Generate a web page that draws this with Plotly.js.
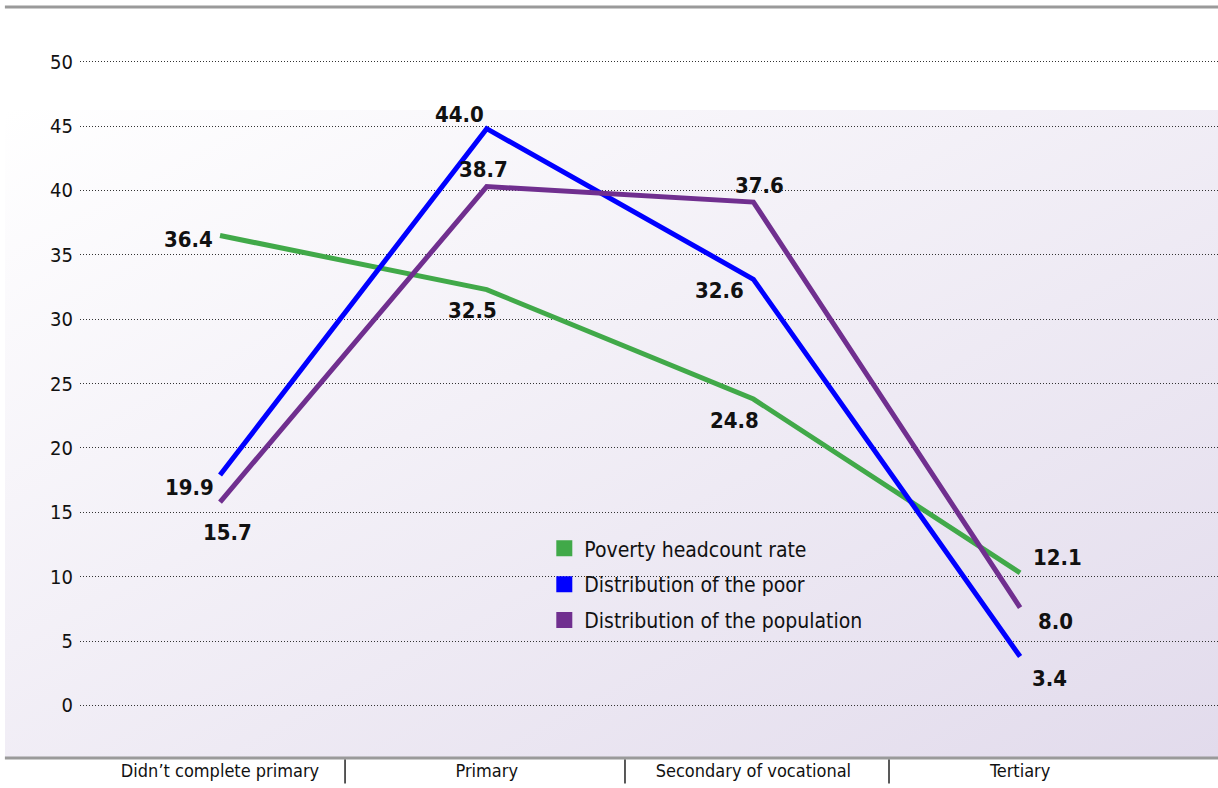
<!DOCTYPE html>
<html><head><meta charset="utf-8">
<script src="https://cdn.plot.ly/plotly-3.0.1.min.js"></script>
<style>
html,body{margin:0;padding:0;background:#fff;}
#wrap{position:relative;width:1218px;height:788px;overflow:hidden;}
#bg{position:absolute;left:5px;top:110px;width:1213px;height:648px;background:linear-gradient(to bottom right,#ffffff 0%,#e2dbec 100%);}
#chart{position:absolute;left:0;top:0;width:1218px;height:788px;}
</style></head><body>
<div id="wrap"><div id="bg"></div><div id="chart"></div></div>
<script>
// ---- data ----
const categories = ["Didn’t complete primary", "Primary", "Secondary of vocational", "Tertiary"];
const seriesNames = ["Poverty headcount rate", "Distribution of the poor", "Distribution of the population"];
// drawn positions of the line vertices
const povertyHeadcount = [36.5, 32.3, 23.8, 10.3];
const distributionPoor = [17.9, 44.8, 33.1, 3.8];
const distributionPopulation = [15.8, 40.3, 39.1, 7.6];
// printed data labels
const povertyHeadcountLabels = ["36.4", "32.5", "24.8", "12.1"];
const distributionPoorLabels = ["19.9", "44.0", "32.6", "3.4"];
const distributionPopulationLabels = ["15.7", "38.7", "37.6", "8.0"];
const yTickValues = [0, 5, 10, 15, 20, 25, 30, 35, 40, 45, 50];

// ---- styling ----
const FONT = "'Liberation Sans Narrow', 'DejaVu Sans Condensed', 'Arial Narrow', sans-serif";
const colors = ["#41a949", "#0000ff", "#702f8f"];
const seriesValues = [povertyHeadcount, distributionPoor, distributionPopulation];
const seriesLabels = [povertyHeadcountLabels, distributionPoorLabels, distributionPopulationLabels];
// label offsets (pixels) relative to each vertex
const labelShift = [
  [[-32, -4], [-14, -21], [-19, -21], [37, 15]],
  [[-31, -12], [-27, 14], [-34, -11], [29, -22]],
  [[7, -30], [-3, 17], [6, 17], [35, -14]]
];

const traces = [];
seriesValues.forEach((vals, s) => {
  traces.push({
    type: "scatter", mode: "lines", x: categories, y: vals,
    line: {color: colors[s], width: 5}, showlegend: false, hoverinfo: "skip"
  });
});
seriesNames.forEach((name, s) => {
  traces.push({
    type: "scatter", mode: "markers", x: [null], y: [null], name: name,
    legendgroup: "g" + s,
    marker: {symbol: "square", size: 16, color: colors[s]}
  });
});

const annotations = [];
seriesLabels.forEach((labs, s) => {
  labs.forEach((t, i) => {
    annotations.push({
      x: i, y: seriesValues[s][i], xref: "x", yref: "y", text: t, showarrow: false,
      xshift: labelShift[s][i][0], yshift: labelShift[s][i][1],
      font: {family: FONT, size: 22, color: "#111", weight: "bold"}
    });
  });
});

const shapes = [
  {type: "line", xref: "paper", yref: "paper", x0: -0.066, x1: 1, y0: 1, y1: 1, line: {color: "#9a9a9a", width: 3}},
  {type: "line", xref: "paper", yref: "paper", x0: -0.066, x1: 1, y0: 0, y1: 0, line: {color: "#9a9a9a", width: 3}}
];
[0.2329, 0.4789, 0.7109].forEach(px => {
  shapes.push({type: "line", xref: "paper", yref: "paper", x0: px, x1: px, y0: -0.002, y1: -0.034, line: {color: "#222", width: 1.5}});
});

const layout = {
  width: 1218, height: 788,
  margin: {l: 80, r: 0, t: 7, b: 30},
  paper_bgcolor: "rgba(0,0,0,0)", plot_bgcolor: "rgba(0,0,0,0)",
  font: {family: FONT, color: "#111"},
  showlegend: true,
  hovermode: false,
  xaxis: {
    type: "category", range: [-0.525, 3.742], showgrid: false, zeroline: false, showline: false,
    ticks: "", tickfont: {family: FONT, size: 18, color: "#111"}, fixedrange: true
  },
  yaxis: {
    range: [-4.08, 54.25], tickvals: yTickValues, showgrid: true, gridcolor: "#333", gridwidth: 1, griddash: "1px,2px",
    zeroline: false, showline: false, ticks: "", ticklabelstandoff: 6,
    tickfont: {family: FONT, size: 20, color: "#111"}, fixedrange: true
  },
  legend: {
    x: 0.408, y: 0.306, xanchor: "left", yanchor: "top", bgcolor: "rgba(0,0,0,0)",
    font: {family: FONT, size: 21, color: "#111"}, traceorder: "grouped", tracegroupgap: 5.5, itemclick: false
  },
  annotations: annotations,
  shapes: shapes
};

Plotly.newPlot("chart", traces, layout, {displayModeBar: false, staticPlot: true});
</script>
</body></html>
